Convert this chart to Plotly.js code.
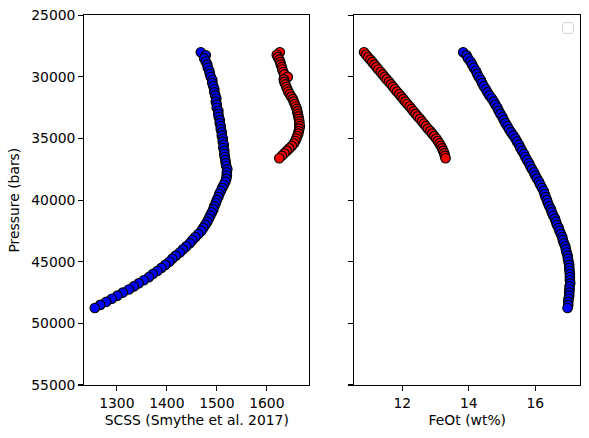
<!DOCTYPE html>
<html>
<head>
<meta charset="utf-8">
<script src="https://cdn.plot.ly/plotly-3.0.1.min.js"></script>
<style>
  html, body { margin: 0; padding: 0; background: #ffffff; }
  #chart { width: 589px; height: 438px; }
</style>
</head>
<body>
<div id="chart"></div>
<script>
// Blue run: pressure (bars), sulfur content at sulfide saturation, FeOt (wt%)
const pressureBlue = [
  28000, 28250, 28500, 28750, 29000, 29250, 29500, 29750, 30000, 30250,
  30500, 30750, 31000, 31250, 31500, 31750, 32000, 32250, 32500, 32750,
  33000, 33250, 33500, 33750, 34000, 34250, 34500, 34750, 35000, 35250,
  35500, 35750, 36000, 36250, 36500, 36750, 37000, 37250, 37500, 37750,
  38000, 38250, 38500, 38750, 39000, 39250, 39500, 39750, 40000, 40250,
  40500, 40750, 41000, 41250, 41500, 41750, 42000, 42250, 42500, 42750,
  43000, 43250, 43500, 43750, 44000, 44250, 44500, 44750, 45000, 45250,
  45500, 45750, 46000, 46250, 46500, 46750, 47000, 47250, 47500, 47750,
  48000, 48250, 48500, 48750
];
const scssBlue = [
  1468, 1478, 1475, 1478, 1481, 1482, 1485, 1486, 1488, 1491,
  1491, 1493, 1495, 1495, 1497, 1499, 1498, 1500, 1500, 1503,
  1503, 1504, 1506, 1506, 1508, 1508, 1510, 1510, 1512, 1512,
  1514, 1513, 1515, 1515, 1516, 1517, 1518, 1519, 1521, 1520,
  1520, 1519, 1517, 1514, 1511, 1508, 1505, 1503, 1500, 1498,
  1495, 1493, 1490, 1487, 1484, 1481, 1477, 1473, 1469, 1463,
  1457, 1451, 1446, 1439, 1432, 1426, 1418, 1411, 1405, 1397,
  1389, 1381, 1372, 1364, 1354, 1344, 1334, 1324, 1312, 1301,
  1290, 1279, 1267, 1256
];
const feotBlue = [
  13.83, 13.93, 13.98, 14.05, 14.10, 14.15, 14.21, 14.25, 14.30, 14.36,
  14.40, 14.45, 14.51, 14.56, 14.62, 14.69, 14.75, 14.80, 14.86, 14.90,
  14.95, 15.01, 15.05, 15.10, 15.16, 15.21, 15.27, 15.34, 15.40, 15.45,
  15.51, 15.55, 15.60, 15.66, 15.70, 15.75, 15.81, 15.85, 15.90, 15.96,
  16.00, 16.05, 16.11, 16.15, 16.20, 16.25, 16.28, 16.31, 16.35, 16.38,
  16.42, 16.47, 16.50, 16.54, 16.59, 16.62, 16.65, 16.70, 16.73, 16.77,
  16.81, 16.83, 16.86, 16.90, 16.92, 16.94, 16.97, 16.98, 17.00, 17.02,
  17.02, 17.03, 17.04, 17.04, 17.04, 17.05, 17.03, 17.03, 17.02, 17.02,
  17.00, 16.99, 16.99, 16.97
];

// Red run
const pressureRed = [
  28000, 28200, 28400, 28600, 28800, 29000, 29200, 29400, 29600, 29800,
  30000, 30200, 30400, 30600, 30800, 31000, 31200, 31400, 31600, 31800,
  32000, 32200, 32400, 32600, 32800, 33000, 33200, 33400, 33600, 33800,
  34000, 34200, 34400, 34600, 34800, 35000, 35200, 35400, 35600, 35800,
  36000, 36200, 36400, 36600
];
const scssRed = [
  1626, 1620, 1622, 1625, 1627, 1628, 1630, 1631, 1633, 1635,
  1642, 1634, 1635, 1637, 1639, 1641, 1643, 1646, 1649, 1652,
  1654, 1656, 1658, 1660, 1661, 1662, 1663, 1664, 1665, 1665,
  1666, 1665, 1664, 1663, 1661, 1659, 1657, 1654, 1650, 1645,
  1640, 1635, 1630, 1625
];
const feotRed = [
  10.85, 10.91, 10.97, 11.04, 11.10, 11.16, 11.22, 11.28, 11.35, 11.41,
  11.47, 11.53, 11.60, 11.66, 11.72, 11.78, 11.84, 11.91, 11.97, 12.03,
  12.09, 12.15, 12.22, 12.28, 12.34, 12.40, 12.46, 12.53, 12.59, 12.65,
  12.71, 12.77, 12.84, 12.90, 12.96, 13.02, 13.07, 13.12, 13.16, 13.20,
  13.23, 13.26, 13.28, 13.30
];

// Tick labels
const pressureTicks = [25000, 30000, 35000, 40000, 45000, 50000, 55000];
const scssTicks = [1300, 1400, 1500, 1600];
const feotTicks = [12, 14, 16];

const FONT = { family: 'DejaVu Sans, sans-serif', size: 13.9, color: '#000000' };

function markerStyle(color) {
  return { color: color, size: 9.5, line: { color: '#000000', width: 1.2 } };
}

const traces = [
  { x: scssBlue, y: pressureBlue, xaxis: 'x', yaxis: 'y', type: 'scatter', mode: 'markers',
    marker: markerStyle('#0000ff'), showlegend: false, hoverinfo: 'skip' },
  { x: scssRed, y: pressureRed, xaxis: 'x', yaxis: 'y', type: 'scatter', mode: 'markers',
    marker: markerStyle('#ff0000'), showlegend: false, hoverinfo: 'skip' },
  { x: feotBlue, y: pressureBlue, xaxis: 'x2', yaxis: 'y2', type: 'scatter', mode: 'markers',
    marker: markerStyle('#0000ff'), showlegend: false, hoverinfo: 'skip' },
  { x: feotRed, y: pressureRed, xaxis: 'x2', yaxis: 'y2', type: 'scatter', mode: 'markers',
    marker: markerStyle('#ff0000'), showlegend: false, hoverinfo: 'skip' }
];

const axisCommon = {
  showgrid: false, zeroline: false, showline: true, mirror: true,
  linecolor: '#000000', linewidth: 1.1,
  ticks: 'outside', ticklen: 5, tickwidth: 1.1, tickcolor: '#000000',
  tickfont: FONT
};

const W = 589, H = 438;
// Empty legend frame in the upper-right corner of the right panel
const bx0 = 562.5, bx1 = 573.5, by0 = 22.5, by1 = 33.5, r = 2.5;
const px = v => (v / W).toFixed(5), py = v => (1 - v / H).toFixed(5);
const legendPath =
  'M ' + px(bx0 + r) + ',' + py(by0) +
  ' L ' + px(bx1 - r) + ',' + py(by0) +
  ' Q ' + px(bx1) + ',' + py(by0) + ' ' + px(bx1) + ',' + py(by0 + r) +
  ' L ' + px(bx1) + ',' + py(by1 - r) +
  ' Q ' + px(bx1) + ',' + py(by1) + ' ' + px(bx1 - r) + ',' + py(by1) +
  ' L ' + px(bx0 + r) + ',' + py(by1) +
  ' Q ' + px(bx0) + ',' + py(by1) + ' ' + px(bx0) + ',' + py(by1 - r) +
  ' L ' + px(bx0) + ',' + py(by0 + r) +
  ' Q ' + px(bx0) + ',' + py(by0) + ' ' + px(bx0 + r) + ',' + py(by0) + ' Z';

const layout = {
  width: W, height: H,
  margin: { l: 0, r: 0, t: 0, b: 0 },
  paper_bgcolor: '#ffffff', plot_bgcolor: '#ffffff',
  font: FONT,
  showlegend: false,
  xaxis: Object.assign({}, axisCommon, {
    domain: [84.3 / W, 309.3 / W], anchor: 'y',
    range: [1235, 1685], tickvals: scssTicks, ticktext: scssTicks.map(String),
    title: { text: 'SCSS (Smythe et al. 2017)', font: FONT, standoff: 5 }
  }),
  yaxis: Object.assign({}, axisCommon, {
    domain: [1 - 385 / H, 1 - 15.3 / H], anchor: 'x',
    range: [55000, 25000], tickvals: pressureTicks, ticktext: pressureTicks.map(String),
    title: { text: 'Pressure (bars)', font: FONT, standoff: 8 }
  }),
  xaxis2: Object.assign({}, axisCommon, {
    domain: [354.3 / W, 580.3 / W], anchor: 'y2',
    range: [10.556, 17.353], tickvals: feotTicks, ticktext: feotTicks.map(String),
    title: { text: 'FeOt (wt%)', font: FONT, standoff: 5 }
  }),
  yaxis2: Object.assign({}, axisCommon, {
    domain: [1 - 385 / H, 1 - 15.3 / H], anchor: 'x2', matches: 'y',
    range: [55000, 25000], tickvals: pressureTicks, showticklabels: false
  }),
  shapes: [
    { type: 'path', xref: 'paper', yref: 'paper', path: legendPath,
      fillcolor: 'rgba(255,255,255,0.8)', line: { color: '#d6d6d6', width: 1 } }
  ]
};

Plotly.newPlot('chart', traces, layout, { staticPlot: true, displayModeBar: false });
</script>
</body>
</html>
